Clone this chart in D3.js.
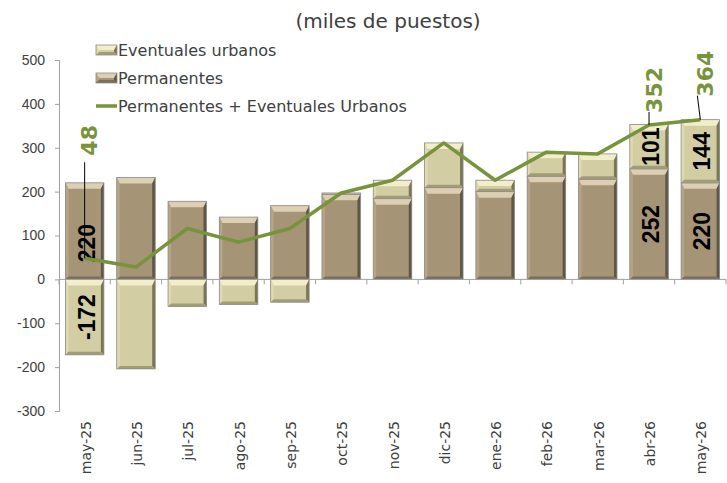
<!DOCTYPE html>
<html>
<head>
<meta charset="utf-8">
<script src="https://cdn.jsdelivr.net/npm/d3@7"></script>
<style>
  body { margin: 0; background: #fff; }
  svg text { fill: #404040; }
</style>
</head>
<body>
<div id="chart"></div>
<script>
const months = ["may-25", "jun-25", "jul-25", "ago-25", "sep-25", "oct-25", "nov-25",
    "dic-25", "ene-26", "feb-26", "mar-26", "abr-26", "may-26"];
const permanentes = [220, 232, 178, 142, 168, 194, 184, 209, 200, 235, 228, 252, 220];
const eventuales = [-172, -204, -62, -57, -52, 3, 42, 102, 26, 55, 58, 101, 144];
const totales = [48, 28, 116, 85, 116, 197, 226, 311, 226, 290, 286, 352, 364];
const yTicks = [-300, -200, -100, 0, 100, 200, 300, 400, 500];
const labeledBars = [0, 11, 12];
const labeledLine = [0, 11, 12];

const width = 727;
const height = 483;
const margin = { left: 59, right: 1, top: 60, bottom: 72 };

// how far above the point each green label sits (px)
const lineLabelLift = { 0: 118, 11: 35, 12: 46 };

const permColors = { base: "#a69476", light: "#dccfb3", left: "#b6a585", dark: "#5f5645", bottom: "#7a6e58" };
const evColors = { base: "#d2cda2", light: "#f2eecb", left: "#dfdab3", dark: "#7b7652", bottom: "#a29d75" };
const green = "#77933c";

const x = d3.scaleBand()
    .domain(months)
    .range([margin.left, width - margin.right])
    .paddingInner(0.25)
    .paddingOuter(0.125);

const y = d3.scaleLinear()
    .domain([-300, 500])
    .range([411, 60]);

const svg = d3.select("#chart")
    .append("svg")
    .attr("width", width)
    .attr("height", height)
    .style("font-family", "'DejaVu Sans', sans-serif");

svg.append("text")
    .attr("x", 388)
    .attr("y", 28)
    .attr("text-anchor", "middle")
    .style("font-size", "20px")
    .text("(miles de puestos)");

// bevelled bar like the Excel preset
const bevelBar = (g, bx, top, w, h, c) => {
    const e = Math.min(3, h / 3), cap = Math.min(6, h / 2);
    const b = g.append("g");
    b.append("rect").attr("x", bx).attr("y", top).attr("width", w).attr("height", h).attr("fill", c.base);
    b.append("polygon")
        .attr("points", [[bx, top], [bx + w, top], [bx + w - e, top + cap], [bx + e, top + cap]].join(" "))
        .attr("fill", c.light);
    b.append("polygon")
        .attr("points", [[bx, top], [bx + e, top + cap], [bx + e, top + h - e], [bx, top + h]].join(" "))
        .attr("fill", c.left);
    b.append("polygon")
        .attr("points", [[bx + w, top], [bx + w, top + h], [bx + w - e, top + h - e], [bx + w - e, top + cap]].join(" "))
        .attr("fill", c.dark);
    b.append("polygon")
        .attr("points", [[bx, top + h], [bx + w, top + h], [bx + w - e, top + h - e], [bx + e, top + h - e]].join(" "))
        .attr("fill", c.bottom);
    b.append("rect").attr("x", bx).attr("y", top).attr("width", w).attr("height", h)
        .attr("fill", "none").attr("stroke", "#8c8c8c").attr("stroke-width", 0.8);
};

// y axis
const yAxis = svg.append("g")
    .attr("transform", `translate(${margin.left},0)`)
    .call(d3.axisLeft(y).tickValues(yTicks).tickSize(4).tickPadding(10).tickFormat(d => String(d)));
yAxis.select(".domain").attr("stroke", "#a0a0a0");
yAxis.selectAll(".tick line").attr("stroke", "#a0a0a0");
yAxis.selectAll(".tick text").style("font-size", "14px").style("fill", "#404040");

// bars
const bars = svg.append("g");
months.forEach((m, i) => {
    const bx = x(m), w = x.bandwidth();
    bevelBar(bars, bx, y(permanentes[i]), w, y(0) - y(permanentes[i]), permColors);
    const ev = eventuales[i];
    if (ev >= 0) {
        bevelBar(bars, bx, y(permanentes[i] + ev), w, y(permanentes[i]) - y(permanentes[i] + ev), evColors);
    } else {
        bevelBar(bars, bx, y(0), w, y(ev) - y(0), evColors);
    }
});

// zero line with category ticks
const zero = svg.append("g");
zero.append("line")
    .attr("x1", margin.left).attr("x2", width - margin.right)
    .attr("y1", y(0)).attr("y2", y(0))
    .attr("stroke", "#a0a0a0");
const step = x.step();
d3.range(months.length + 1).forEach(k => {
    const tx = margin.left + k * step;
    zero.append("line")
        .attr("x1", tx).attr("x2", tx)
        .attr("y1", y(0)).attr("y2", y(0) + 5)
        .attr("stroke", "#a0a0a0");
});

// month labels
svg.append("g")
    .selectAll("text")
    .data(months)
    .enter()
    .append("text")
    .attr("transform", d => `translate(${x(d) + x.bandwidth() / 2 + 1},421) rotate(-90)`)
    .attr("text-anchor", "end")
    .attr("dominant-baseline", "central")
    .style("font-size", "14px")
    .text(d => d);

// bar value labels
const valueLabel = (cx, cy, txt) => svg.append("text")
    .attr("transform", `translate(${cx},${cy}) rotate(-90)`)
    .attr("text-anchor", "middle")
    .attr("dominant-baseline", "central")
    .style("font-family", "'Liberation Sans', Arial, sans-serif")
    .style("font-size", "23px")
    .style("font-weight", "bold")
    .style("fill", "#000")
    .text(txt);

labeledBars.forEach(i => {
    const cx = x(months[i]) + x.bandwidth() / 2 + 2;
    const p = permanentes[i], ev = eventuales[i];
    valueLabel(cx, (y(0) + y(p)) / 2 + (i === 0 ? 12 : 0), p);
    if (ev >= 0) valueLabel(cx, (y(p) + y(p + ev)) / 2, ev);
    else valueLabel(cx, (y(0) + y(ev)) / 2, ev);
});

// total line
const line = d3.line()
    .x((d, i) => x(months[i]) + x.bandwidth() / 2)
    .y(d => y(d));

svg.append("path")
    .datum(totales)
    .attr("d", line)
    .attr("fill", "none")
    .attr("stroke", green)
    .attr("stroke-width", 3.5)
    .attr("stroke-linejoin", "round");

// green labels with leader lines
labeledLine.forEach(i => {
    const px = x(months[i]) + x.bandwidth() / 2;
    const py = y(totales[i]);
    const ly = py - lineLabelLift[i];
    svg.append("line")
        .attr("x1", px + (i === 12 ? -3 : 0)).attr("x2", px)
        .attr("y1", ly + 22).attr("y2", py)
        .attr("stroke", "#000").attr("stroke-width", 1);
    svg.append("text")
        .attr("transform", `translate(${px + 5},${ly}) rotate(-90)`)
        .attr("text-anchor", "middle")
        .attr("dominant-baseline", "central")
        .style("font-size", "22px")
        .style("font-weight", "bold")
        .style("fill", green)
        .text(totales[i]);
});

// legend
const legend = svg.append("g");
const legendItems = [
    { label: "Eventuales urbanos", type: "bar", c: evColors },
    { label: "Permanentes", type: "bar", c: permColors },
    { label: "Permanentes + Eventuales Urbanos", type: "line" }
];
legendItems.forEach((d, k) => {
    const ly = 50 + k * 28;
    if (d.type === "bar") {
        bevelBar(legend, 96, ly - 5, 21, 10, d.c);
    } else {
        legend.append("line")
            .attr("x1", 96).attr("x2", 117)
            .attr("y1", ly).attr("y2", ly)
            .attr("stroke", green).attr("stroke-width", 3.5);
    }
    legend.append("text")
        .attr("x", 118)
        .attr("y", ly)
        .attr("dominant-baseline", "central")
        .style("font-size", "16px")
        .text(d.label);
});
</script>
</body>
</html>
